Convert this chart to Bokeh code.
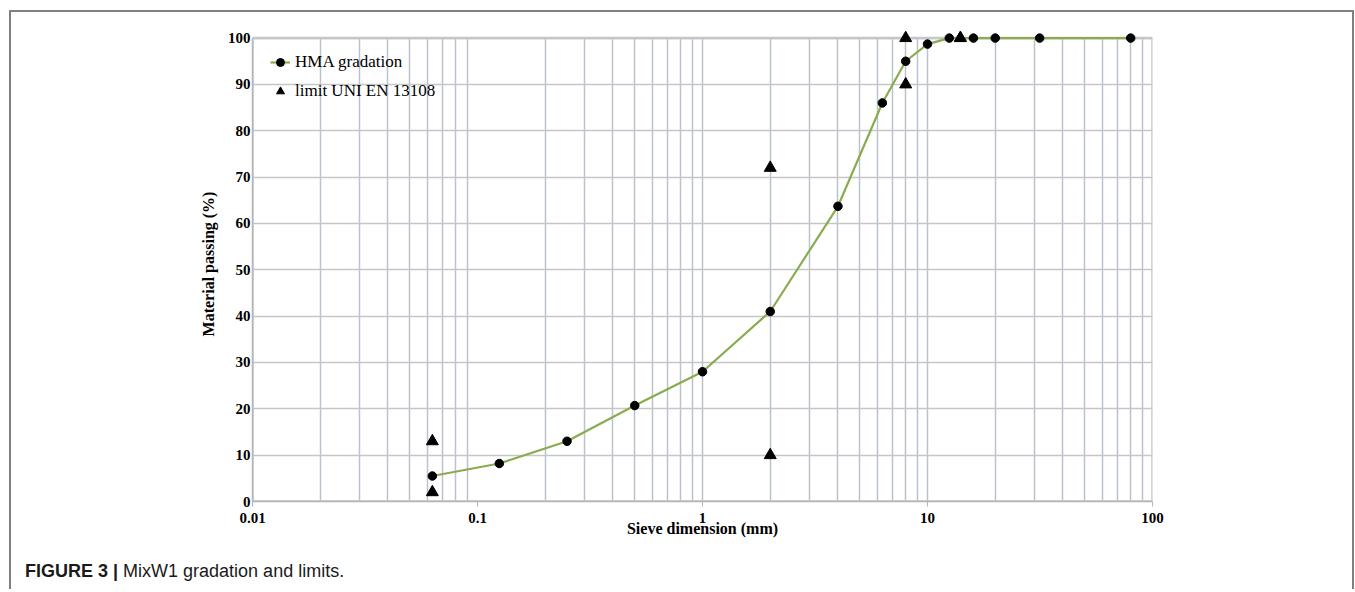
from bokeh.plotting import figure
from bokeh.layouts import column
from bokeh.models import (Range1d, FixedTicker, Legend, LegendItem, Div,
                          ColumnDataSource)
from bokeh.embed import file_html
from bokeh.resources import INLINE

# ---- data ----
sieve_mm = [0.063, 0.125, 0.25, 0.5, 1, 2, 4, 6.3, 8, 10, 12.5, 16, 20, 31.5, 80]
passing = [5.5, 8.2, 13.0, 20.7, 28.0, 41.0, 63.7, 86.0, 95.0, 98.7, 100, 100, 100, 100, 100]
limit_mm = [0.063, 0.063, 2, 2, 8, 8, 14, 14]
limit_val = [13, 2, 72, 10, 100, 90, 100, 100]
x_ticks = [0.01, 0.1, 1, 10, 100]
x_tick_labels = ["0.01", "0.1", "1", "10", "100"]
y_ticks = list(range(0, 101, 10))
x_grid = [0.02, 0.03, 0.04, 0.05, 0.06, 0.07, 0.08, 0.09,
          0.2, 0.3, 0.4, 0.5, 0.6, 0.7, 0.8, 0.9, 1,
          2, 3, 4, 5, 6, 7, 8, 9, 10,
          20, 30, 40, 50, 60, 70, 80, 90]
x_label = "Sieve dimension (mm)"
y_label = "Material passing (%)"
series_names = ["HMA gradation", "limit UNI EN 13108"]
caption_bold = "FIGURE 3 |"
caption_text = "MixW1 gradation and limits."

SERIF = "Liberation Serif"
SANS = "Liberation Sans"
GREEN = "#8aab50"
VGRID = "#b9c3cd"
HGRID = "#c6c6c6"
FRAME = "#808080"

X_MIN, X_MAX, Y_MIN, Y_MAX, Y_TOP = 0.01, 100, 0, 100, 102.5

# figure sits inside a bordered box starting at (11, 12) on the page
FW, FH = 1341, 545
L, R, T, B = 241, 1141, 14, 489

p = figure(width=FW, height=FH, x_axis_type="log",
           x_range=Range1d(X_MIN, X_MAX), y_range=Range1d(Y_MIN, Y_TOP),
           output_backend="svg", toolbar_location=None,
           min_border_left=L, min_border_right=FW - R,
           min_border_top=T, min_border_bottom=FH - B)
p.background_fill_color = "white"
p.border_fill_color = "white"
p.outline_line_color = None

# axes
p.xaxis.ticker = FixedTicker(ticks=x_ticks)
p.xaxis.major_label_overrides = {t: s for t, s in zip(x_ticks, x_tick_labels)}
p.yaxis.ticker = FixedTicker(ticks=y_ticks)
p.yaxis.bounds = (Y_MIN, Y_MAX)
for ax in (p.xaxis, p.yaxis):
    ax.axis_line_color = "#b5b5b5"
    ax.axis_line_width = 1.5
    ax.major_tick_line_color = "#b5b5b5"
    ax.minor_tick_line_color = None
    ax.major_label_text_font = SERIF
    ax.major_label_text_font_style = "bold"
    ax.major_label_text_font_size = "15px"
    ax.major_label_text_color = "black"
    ax.axis_label_text_font = SERIF
    ax.axis_label_text_font_style = "bold"
    ax.axis_label_text_font_size = "16px"
    ax.axis_label_text_color = "black"
p.xaxis.major_tick_out = 5
p.xaxis.major_tick_in = 0
p.yaxis.major_tick_out = 0
p.yaxis.major_tick_in = 0
p.xaxis.major_label_standoff = 6
p.yaxis.major_label_standoff = 2
p.xaxis.axis_label = x_label
p.yaxis.axis_label = y_label
p.xaxis.axis_label_standoff = -6
p.yaxis.axis_label_standoff = 8

# grids
p.xgrid.ticker = FixedTicker(ticks=x_grid)
p.xgrid.grid_line_color = VGRID
p.xgrid.grid_line_width = 1.5
p.ygrid.ticker = FixedTicker(ticks=y_ticks)
p.ygrid.grid_line_color = HGRID
p.ygrid.grid_line_width = 1.5

# white mask above 100 % so the grid stops at the plot border, then the border
p.quad(left=X_MIN, right=X_MAX, bottom=Y_MAX, top=Y_TOP,
       fill_color="white", line_color=None)
p.quad(left=X_MIN, right=X_MAX, bottom=Y_MIN, top=Y_MAX,
       fill_alpha=0, line_color=HGRID, line_width=2.5)

src = ColumnDataSource(dict(x=sieve_mm, y=passing))
lsrc = ColumnDataSource(dict(x=limit_mm, y=limit_val))

ln = p.line("x", "y", source=src, line_color=GREEN, line_width=2.2)
pts = p.scatter("x", "y", source=src, marker="circle", size=8.5,
                fill_color="black", line_color="black")
tri = p.scatter("x", "y", source=lsrc, marker="triangle", size=12,
                fill_color="black", line_color="black")

legend = Legend(items=[LegendItem(label=series_names[0], renderers=[ln, pts]),
                       LegendItem(label=series_names[1], renderers=[tri])],
                location=(18, 400))
legend.margin = 0
legend.padding = 0
legend.spacing = 9
legend.glyph_width = 20
legend.glyph_height = 20
legend.label_standoff = 5
legend.label_text_font = SERIF
legend.label_text_font_size = "17px"
legend.label_text_color = "black"
legend.background_fill_alpha = 0
legend.border_line_color = None
p.add_layout(legend)

caption = Div(text=f'<span style="font-weight:bold">{caption_bold}</span> {caption_text}',
              width=FW - 14, height=30, margin=(2, 0, 0, 14),
              styles={"font-family": SANS, "font-size": "18px", "color": "#1a1a1a"})

layout = column(p, caption, margin=(10, 0, 0, 9), spacing=0,
                styles={"border-top": f"2px solid {FRAME}",
                        "border-left": f"2px solid {FRAME}",
                        "border-right": f"2px solid {FRAME}",
                        "background": "white"})

open("out.html", "w").write(file_html(layout, INLINE))
